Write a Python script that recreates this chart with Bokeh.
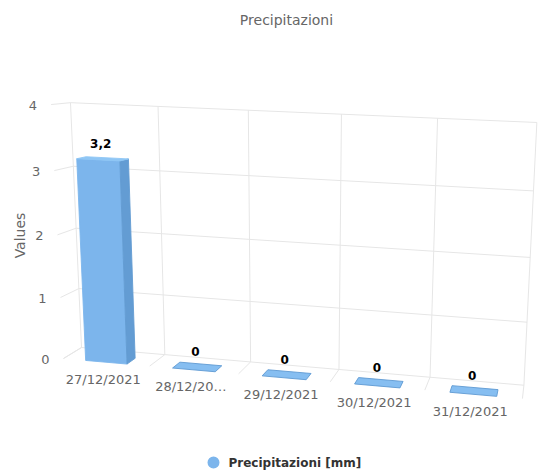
import numpy as np
from bokeh.plotting import figure
from bokeh.models import Range1d
from bokeh.core.properties import value
from bokeh.embed import file_html
from bokeh.resources import INLINE

# ---------------- data ----------------
chart_title = "Precipitazioni"
categories = ["27/12/2021", "28/12/2021", "29/12/2021", "30/12/2021", "31/12/2021"]
category_labels = ["27/12/2021", "28/12/20\u2026", "29/12/2021", "30/12/2021", "31/12/2021"]
values_mm = [3.2, 0, 0, 0, 0]
value_labels = ["3,2", "0", "0", "0", "0"]
y_ticks = [0, 1, 2, 3, 4]
y_tick_labels = ["0", "1", "2", "3", "4"]
y_max = 4
y_title = "Values"
series_name = "Precipitazioni [mm]"

# ---------------- 3D camera (layout) ----------------
# unit box (u: categories 0..1, v: values 0..1, w: depth 0..1) -> page pixels,
# three-point perspective defined by vanishing points
ORIGIN = np.array([63.0, 358.0, 1.0])
CAM_U = -0.07455 * np.array([-5634.0, -140.0, 1.0])
CAM_V = -0.0512 * np.array([293.0, 5064.0, 1.0])
CAM_W = 0.03758 * np.array([560.0, 55.0, 1.0])

n_cat = len(categories)


def project(u, v, w):
    u, v, w = np.broadcast_arrays(np.asarray(u, float), np.asarray(v, float), np.asarray(w, float))
    h = (ORIGIN[:, None] + np.outer(CAM_U, u.ravel() / n_cat)
         + np.outer(CAM_V, v.ravel() / y_max) + np.outer(CAM_W, w.ravel()))
    return list(h[0] / h[2]), list(h[1] / h[2])


FONT = value("DejaVu Sans")
GRID = "#e6e6e6"
BAR_FRONT = "#7cb5ec"
BAR_SIDE = "#639cd3"
BAR_TOP = "#8fc6f5"
BAR_TOP_FLAT = "#86bef1"
BAR_EDGE_FLAT = "#5f9ad3"

W, H = 538, 470
p = figure(width=W, height=H, x_range=Range1d(0, W), y_range=Range1d(H, 0),
           output_backend="svg", toolbar_location=None, min_border=0,
           x_axis_location=None, y_axis_location=None)
p.grid.visible = False
p.outline_line_color = None
p.background_fill_color = "white"
p.border_fill_color = "white"

# ---------------- walls / grid ----------------
gx, gy = [], []
for t in y_ticks:
    x, y = project([0, n_cat], [t, t], [1, 1])      # back wall
    gx.append(x); gy.append(y)
    x, y = project([0, 0], [t, t], [0, 1])          # left wall
    gx.append(x); gy.append(y)
for b in range(n_cat + 1):
    x, y = project([b, b], [0, y_max], [1, 1])      # back wall verticals
    gx.append(x); gy.append(y)
    x, y = project([b, b], [0, 0], [0, 1])          # floor
    gx.append(x); gy.append(y)
p.multi_line(gx, gy, line_color=GRID, line_width=1)

# ---------------- bars ----------------
half_w = 0.24
bar_depth = 0.5
fx, fy, fc, lc = [], [], [], []
for i, val in enumerate(values_mm):
    c = i + 0.5
    u0, u1 = c - half_w, c + half_w
    if val > 0:
        x, y = project([u0, u1, u1, u0], [0, 0, val, val], 0)
        fx.append(x); fy.append(y); fc.append(BAR_FRONT); lc.append(BAR_FRONT)
        x, y = project(u1, [0, 0, val, val], [0, bar_depth, bar_depth, 0])
        fx.append(x); fy.append(y); fc.append(BAR_SIDE); lc.append(BAR_SIDE)
    x, y = project([u0, u1, u1, u0], val, [0, 0, bar_depth, bar_depth])
    fx.append(x); fy.append(y)
    fc.append(BAR_TOP_FLAT if val == 0 else BAR_TOP)
    lc.append(BAR_EDGE_FLAT if val == 0 else BAR_TOP)
p.patches(fx, fy, fill_color=fc, line_color=lc, line_width=0.9)

# ---------------- data labels ----------------
lx, ly = project([i + 0.5 for i in range(n_cat)], values_mm, bar_depth / 2)
p.text(lx, ly, text=value_labels, text_font=FONT, text_font_size="12px",
       text_font_style="bold", text_color="#000000", text_align="center",
       text_baseline="middle", x_offset=-2, y_offset=-15)

# ---------------- x labels ----------------
xx, xy = project([i + 0.5 for i in range(n_cat)], 0, 0)
p.text(xx, xy, text=category_labels, text_font=FONT, text_font_size="13px",
       text_color="#666666", text_align="center", text_baseline="middle",
       x_offset=-3, y_offset=17)

# ---------------- y labels ----------------
yx, yy = project(0, y_ticks, 0)
p.text(yx, yy, text=y_tick_labels, text_font=FONT, text_font_size="13px",
       text_color="#666666", text_align="right", text_baseline="middle",
       x_offset=-14, y_offset=1)

# ---------------- titles ----------------
p.text([286], [19], text=[chart_title], text_font=FONT, text_font_size="14px",
       text_color="#666666", text_align="center", text_baseline="middle")
p.text([19], [235], text=[y_title], text_font=FONT, text_font_size="14px",
       text_color="#666666", text_align="center", text_baseline="middle", angle=np.pi / 2)

# ---------------- legend ----------------
p.scatter([213], [462], marker="circle", size=12, fill_color=BAR_FRONT, line_color=None)
p.text([228], [462], text=[series_name], text_font=FONT, text_font_size="12px",
       text_font_style="bold", text_color="#333333", text_align="left",
       text_baseline="middle")

open("out.html", "w").write(file_html(p, INLINE))
